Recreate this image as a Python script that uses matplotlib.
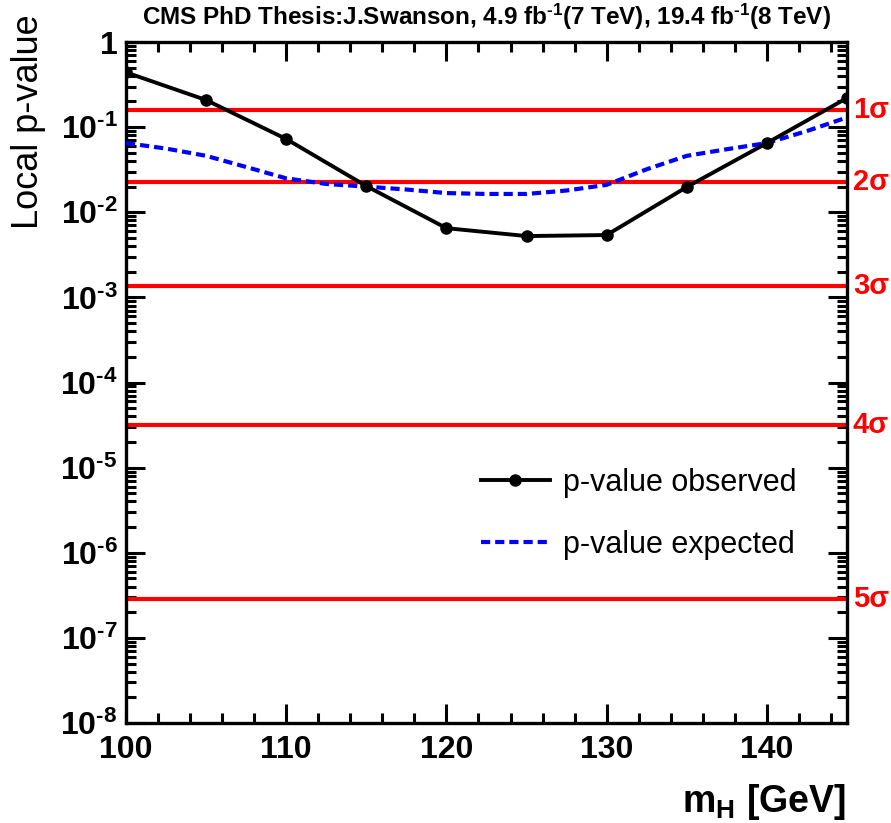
import numpy as np
import matplotlib
matplotlib.use("Agg")
import matplotlib.pyplot as plt
from matplotlib.ticker import FixedLocator, FuncFormatter, NullFormatter
import matplotlib.transforms as mtransforms

plt.rcParams["font.family"] = ["Liberation Sans", "DejaVu Sans"]
plt.rcParams["mathtext.fontset"] = "custom"
plt.rcParams["mathtext.rm"] = "Liberation Sans:bold"
plt.rcParams["mathtext.bf"] = "Liberation Sans:bold"
plt.rcParams["mathtext.default"] = "bf"

# observed local p-value at each mass point
mass_obs = [100, 105, 110, 115, 120, 125, 130, 135, 140, 145]
p_obs = [0.44, 0.208, 0.0725, 0.0203, 0.0065, 0.00525, 0.0054, 0.0198, 0.065, 0.22]

# expected local p-value
mass_exp = [100, 102.5, 105, 107.5, 110, 112.5, 115, 117.5, 120, 122.5, 125,
            127.5, 130, 132.5, 135, 137.5, 140, 142.5, 145]
p_exp = [0.065, 0.056, 0.046, 0.034, 0.025, 0.0215, 0.020, 0.0185, 0.0168, 0.0164, 0.0164,
         0.018, 0.021, 0.032, 0.046, 0.055, 0.065, 0.09, 0.13]

# one-sided significance thresholds
sigma_labels = ["1σ", "2σ", "3σ", "4σ", "5σ"]
sigma_pvals = [0.1587, 0.02275, 0.00135, 3.17e-5, 2.87e-7]

decades = list(range(-8, 1))
title = r"CMS PhD Thesis:J.Swanson, 4.9 fb$^{\text{-1}}$(7 TeV), 19.4 fb$^{\text{-1}}$(8 TeV)"

fig = plt.figure(figsize=(8.91, 8.23), dpi=100)
ax = fig.add_axes([126 / 891, 1 - 723 / 823, (847 - 126) / 891, (723 - 42) / 823])

for p in sigma_pvals:
    ax.axhline(p, color="#ff0000", lw=3.0, zorder=2)

ax.plot(mass_exp, p_exp, color="#0000ff", lw=3.0, ls=(0, (2.2, 1.2)), label="p-value expected", zorder=3)
ax.plot(mass_obs, p_obs, color="black", lw=2.8, marker="o", ms=8, label="p-value observed", zorder=4)

ax.set_yscale("log")
ax.set_xlim(100, 145)
ax.set_ylim(1e-8, 1)

ax.xaxis.set_major_locator(FixedLocator([100, 110, 120, 130, 140]))
ax.xaxis.set_minor_locator(FixedLocator(np.arange(100, 146, 2)))
ax.yaxis.set_major_locator(FixedLocator([10.0 ** e for e in decades]))
minors = [m * 10.0 ** e for e in decades[:-1] for m in range(2, 10)]
ax.yaxis.set_minor_locator(FixedLocator(minors))
ax.yaxis.set_minor_formatter(NullFormatter())


def fmt_log(v, pos):
    e = int(round(np.log10(v)))
    if e == 0:
        return "1"
    return r"$\mathbf{10^{\text{%d}}}$" % e


ax.yaxis.set_major_formatter(FuncFormatter(fmt_log))

ax.tick_params(which="both", direction="in", top=True, right=True, width=2.2, colors="black")
ax.tick_params(which="major", length=14)
ax.tick_params(which="minor", length=7)
ax.tick_params(axis="x", which="major", labelsize=23, pad=9)
ax.tick_params(axis="y", which="major", labelsize=23, pad=6)
for lab in ax.get_xticklabels() + ax.get_yticklabels():
    lab.set_fontweight("bold")
for s in ax.spines.values():
    s.set_linewidth(2.4)

trans = mtransforms.blended_transform_factory(ax.transAxes, ax.transData)
for lab, p in zip(sigma_labels, sigma_pvals):
    ax.text(1.008, p, lab, transform=trans, color="#ff0000", fontsize=21,
            fontweight="bold", ha="left", va="center", clip_on=False)

handles, labels = ax.get_legend_handles_labels()
leg = ax.legend(handles[::-1], labels[::-1], loc="upper left",
                bbox_to_anchor=(481 / 891, 1 - 468 / 823), bbox_transform=fig.transFigure,
                frameon=False, fontsize=22, handlelength=2.25, labelspacing=1.05,
                handletextpad=0.42, borderpad=0, borderaxespad=0)

fig.text(486 / 891, 1 - 17 / 823, title, ha="center", va="center", fontsize=17.5, fontweight="bold")
fig.text(28 / 891, 1 - 14 / 823, "Local p-value", rotation=90, ha="center", va="top", fontsize=26)
fig.text(846 / 891, 1 - 802 / 823, r"m$_{\mathbf{H}}$ [GeV]", ha="right", va="center",
         fontsize=27, fontweight="bold")

fig.savefig("out.png", dpi=100)
